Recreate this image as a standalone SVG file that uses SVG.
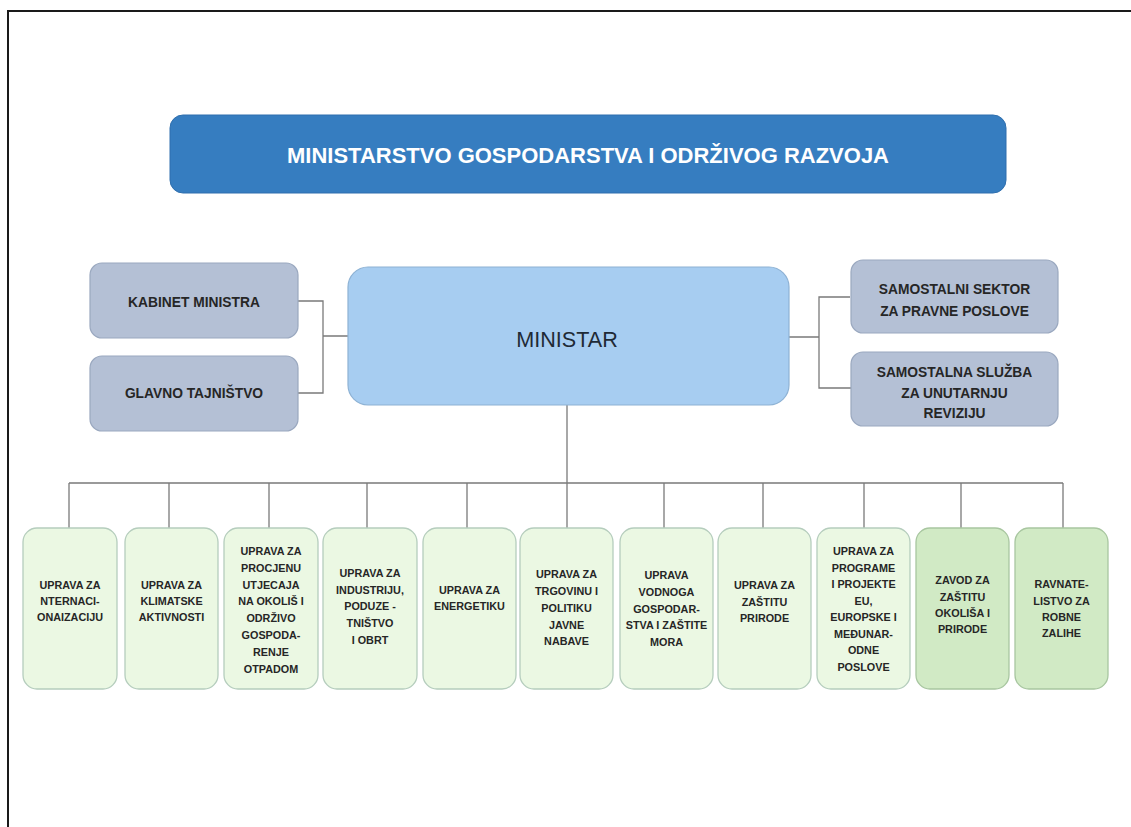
<svg xmlns="http://www.w3.org/2000/svg" width="1131" height="827" viewBox="0 0 1131 827">
<style>
.frame{fill:none;stroke:#1a1a1a;stroke-width:2}
.conn{fill:none;stroke:#7a7a7a;stroke-width:1.3}
.title{fill:#367dc0;stroke:#2f6fae;stroke-width:1}
.titletxt{font-family:"Liberation Sans",Arial,sans-serif;font-weight:bold;font-size:21.5px;fill:#ffffff;text-anchor:middle}
.min{fill:#a7cdf1;stroke:#8eb2d4;stroke-width:1.2}
.mintxt{font-family:"Liberation Sans",Arial,sans-serif;font-size:21.6px;fill:#1f2a36;text-anchor:middle}
.side{fill:#b4c0d5;stroke:#9aa8bf;stroke-width:1.2}
.sidetxt{font-family:"Liberation Sans",Arial,sans-serif;font-weight:bold;font-size:13.8px;fill:#262626;text-anchor:middle}
.unit{fill:#ebf8e3;stroke:#b5cdbd;stroke-width:1.3}
.unit2{fill:#d1eac5;stroke:#a8c6a0;stroke-width:1.3}
.utxt{font-family:"Liberation Sans",Arial,sans-serif;font-weight:bold;font-size:10.8px;fill:#262626;text-anchor:middle}
</style>
<rect x="0" y="0" width="1131" height="827" fill="#ffffff"/>
<path class="frame" d="M8,828 V11 H1132"/>

<g id="connectors">
<path class="conn" d="M298,301 H323 V393 H298 M323,336 H348"/>
<path class="conn" d="M850,297 H819 V388 H851 M789,337 H819"/>
<path class="conn" d="M567,405 V483 M69,483 H1063"/>
<path class="conn" d="M69,483 V528 M169,483 V528 M269,483 V528 M367,483 V528 M467,483 V528 M567,483 V528 M664,483 V528 M763,483 V528 M864,483 V528 M961,483 V528 M1063,483 V528"/>
</g>

<g id="title">
<rect class="title" x="170" y="115" width="836" height="78" rx="13"/>
<text class="titletxt" x="588" y="163" textLength="602" lengthAdjust="spacingAndGlyphs">MINISTARSTVO GOSPODARSTVA I ODRŽIVOG RAZVOJA</text>
</g>

<g id="ministar">
<rect class="min" x="348" y="267" width="441" height="138" rx="20"/>
<text class="mintxt" x="567" y="347">MINISTAR</text>
</g>

<g id="kabinet">
<rect class="side" x="90" y="263" width="208" height="75" rx="12"/>
<text class="sidetxt" x="194" y="306.5">KABINET MINISTRA</text>
</g>
<g id="glavno">
<rect class="side" x="90" y="356" width="208" height="75" rx="12"/>
<text class="sidetxt" x="194" y="398">GLAVNO TAJNIŠTVO</text>
</g>
<g id="pravni">
<rect class="side" x="851" y="260" width="207" height="73" rx="12"/>
<text class="sidetxt" x="954.5" y="294">SAMOSTALNI SEKTOR</text>
<text class="sidetxt" x="954.5" y="316">ZA PRAVNE POSLOVE</text>
</g>
<g id="revizija">
<rect class="side" x="851" y="352" width="207" height="74" rx="12"/>
<text class="sidetxt" x="954.5" y="377">SAMOSTALNA SLUŽBA</text>
<text class="sidetxt" x="954.5" y="397.5">ZA UNUTARNJU</text>
<text class="sidetxt" x="954.5" y="418">REVIZIJU</text>
</g>

<g id="u1">
<rect class="unit" x="23" y="528" width="94" height="161" rx="14"/>
<text class="utxt" x="70" y="589">UPRAVA ZA</text>
<text class="utxt" x="70" y="605">NTERNACI-</text>
<text class="utxt" x="70" y="621">ONAIZACIJU</text>
</g>
<g id="u2">
<rect class="unit" x="125" y="528" width="93" height="161" rx="14"/>
<text class="utxt" x="171.5" y="589">UPRAVA ZA</text>
<text class="utxt" x="171.5" y="605">KLIMATSKE</text>
<text class="utxt" x="171.5" y="621">AKTIVNOSTI</text>
</g>
<g id="u3">
<rect class="unit" x="224" y="528" width="94" height="161" rx="14"/>
<text class="utxt" x="271" y="555">UPRAVA ZA</text>
<text class="utxt" x="271" y="572">PROCJENU</text>
<text class="utxt" x="271" y="589">UTJECAJA</text>
<text class="utxt" x="271" y="605">NA OKOLIŠ I</text>
<text class="utxt" x="271" y="622">ODRŽIVO</text>
<text class="utxt" x="271" y="639">GOSPODA-</text>
<text class="utxt" x="271" y="656">RENJE</text>
<text class="utxt" x="271" y="673">OTPADOM</text>
</g>
<g id="u4">
<rect class="unit" x="323" y="528" width="94" height="161" rx="14"/>
<text class="utxt" x="370" y="577">UPRAVA ZA</text>
<text class="utxt" x="370" y="594">INDUSTRIJU,</text>
<text class="utxt" x="370" y="610">PODUZE -</text>
<text class="utxt" x="370" y="627">TNIŠTVO</text>
<text class="utxt" x="370" y="644">I OBRT</text>
</g>
<g id="u5">
<rect class="unit" x="423" y="528" width="93" height="161" rx="14"/>
<text class="utxt" x="469.5" y="594">UPRAVA ZA</text>
<text class="utxt" x="469.5" y="610">ENERGETIKU</text>
</g>
<g id="u6">
<rect class="unit" x="520" y="528" width="93" height="161" rx="14"/>
<text class="utxt" x="566.5" y="578">UPRAVA ZA</text>
<text class="utxt" x="566.5" y="595">TRGOVINU I</text>
<text class="utxt" x="566.5" y="612">POLITIKU</text>
<text class="utxt" x="566.5" y="629">JAVNE</text>
<text class="utxt" x="566.5" y="645">NABAVE</text>
</g>
<g id="u7">
<rect class="unit" x="620" y="528" width="93" height="161" rx="14"/>
<text class="utxt" x="666.5" y="579">UPRAVA</text>
<text class="utxt" x="666.5" y="596">VODNOGA</text>
<text class="utxt" x="666.5" y="613">GOSPODAR-</text>
<text class="utxt" x="666.5" y="629">STVA I ZAŠTITE</text>
<text class="utxt" x="666.5" y="646">MORA</text>
</g>
<g id="u8">
<rect class="unit" x="718" y="528" width="93" height="161" rx="14"/>
<text class="utxt" x="764.5" y="589">UPRAVA ZA</text>
<text class="utxt" x="764.5" y="606">ZAŠTITU</text>
<text class="utxt" x="764.5" y="622">PRIRODE</text>
</g>
<g id="u9">
<rect class="unit" x="817" y="528" width="93" height="161" rx="14"/>
<text class="utxt" x="863.5" y="555">UPRAVA ZA</text>
<text class="utxt" x="863.5" y="572">PROGRAME</text>
<text class="utxt" x="863.5" y="588">I PROJEKTE</text>
<text class="utxt" x="863.5" y="605">EU,</text>
<text class="utxt" x="863.5" y="621">EUROPSKE I</text>
<text class="utxt" x="863.5" y="638">MEĐUNAR-</text>
<text class="utxt" x="863.5" y="654">ODNE</text>
<text class="utxt" x="863.5" y="671">POSLOVE</text>
</g>
<g id="u10">
<rect class="unit2" x="916" y="528" width="93" height="161" rx="14"/>
<text class="utxt" x="962.5" y="584">ZAVOD ZA</text>
<text class="utxt" x="962.5" y="601">ZAŠTITU</text>
<text class="utxt" x="962.5" y="617">OKOLIŠA I</text>
<text class="utxt" x="962.5" y="633">PRIRODE</text>
</g>
<g id="u11">
<rect class="unit2" x="1015" y="528" width="93" height="161" rx="14"/>
<text class="utxt" x="1061.5" y="588">RAVNATE-</text>
<text class="utxt" x="1061.5" y="605">LISTVO ZA</text>
<text class="utxt" x="1061.5" y="621">ROBNE</text>
<text class="utxt" x="1061.5" y="637">ZALIHE</text>
</g>
</svg>
